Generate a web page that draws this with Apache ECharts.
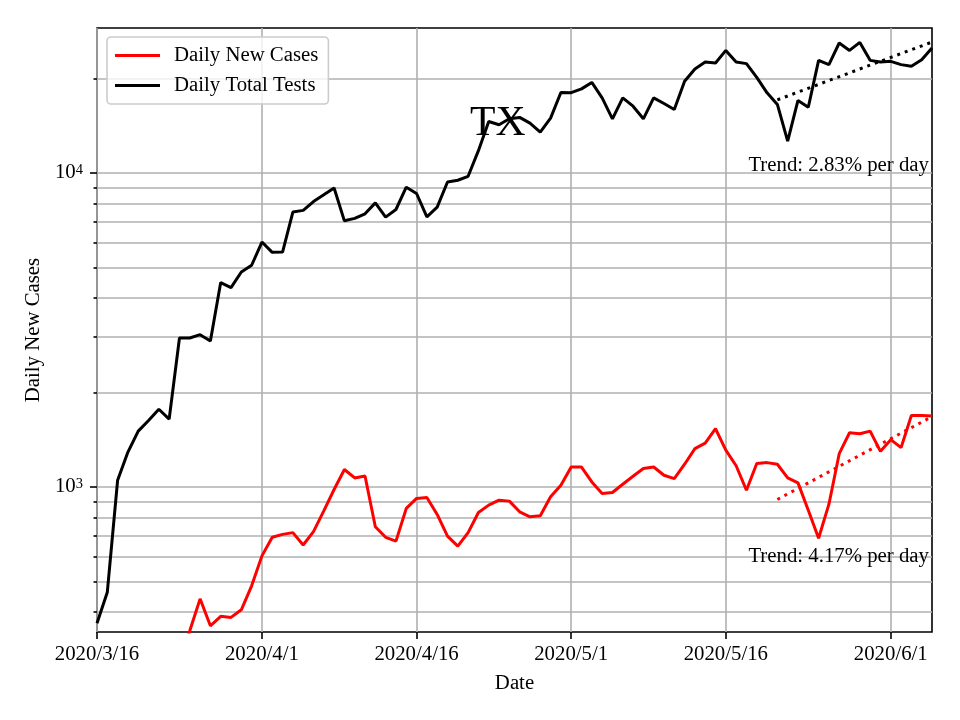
<!DOCTYPE html>
<html><head><meta charset="utf-8">
<script src="https://cdn.jsdelivr.net/npm/echarts@6/dist/echarts.min.js"></script>
<style>html,body{margin:0;padding:0;background:#fff}#c{width:960px;height:720px}</style>
</head><body><div id="c"></div>
<script>
// ---- data ----
const startYear = 2020, startMonth = 3, startDay = 16, dayCount = 82;
const xTickLabels = ['2020/3/16', '2020/4/1', '2020/4/16', '2020/5/1', '2020/5/16', '2020/6/1'];
const yTickValues = [1000, 10000];
const yTickExponents = ['3', '4'];
const dailyTotalTests = [368, 462, 1050, 1291, 1506, 1628, 1768, 1644, 2981, 2981,
  3054, 2916, 4476, 4314, 4838, 5082, 6026, 5588, 5600, 7510,
  7600, 8110, 8520, 8960, 7040, 7166, 7410, 8030, 7234, 7650,
  9010, 8603, 7250, 7783, 9363, 9480, 9760, 11780, 14590, 14240,
  14880, 15030, 14410, 13500, 14950, 18040, 18020, 18530, 19430, 17350,
  14880, 17350, 16320, 14880, 17350, 16650, 15930, 19600, 21450, 22580,
  22410, 24570, 22580, 22300, 20170, 18000, 16530, 12640, 17020, 16200,
  22840, 22140, 25940, 24570, 26060, 22840, 22580, 22680, 22140, 21870,
  22930, 25020];
const dailyNewCases = [null, null, null, null, null, null, null, null, 280, 348,
  440, 361, 387, 384, 406, 484, 603, 691, 706, 715,
  653, 720, 839, 981, 1136, 1068, 1083, 747, 691, 672,
  854, 919, 925, 817, 697, 648, 715, 829, 875, 907,
  901, 833, 803, 809, 930, 1013, 1157, 1157, 1037, 953,
  960, 1020, 1081, 1144, 1157, 1089, 1063, 1181, 1324, 1379,
  1532, 1310, 1168, 976, 1187, 1195, 1181, 1068, 1030, 843,
  686, 881, 1276, 1488, 1477, 1506, 1298, 1414, 1334, 1689,
  1689, 1681];
const trendDates = ['2020/5/21', '2020/6/5'];
const trendTests = [17100, 26130];
const trendCases = [912, 1675];
const trendTestsText = 'Trend: 2.83% per day';
const trendCasesText = 'Trend: 4.17% per day';
const stateName = 'TX';

// ---- build ----
const categories = [];
for (let i = 0; i < dayCount; i++) {
  const d = new Date(Date.UTC(startYear, startMonth - 1, startDay + i));
  categories.push(d.getUTCFullYear() + '/' + (d.getUTCMonth() + 1) + '/' + d.getUTCDate());
}
const isTick = (idx, val) => xTickLabels.indexOf(categories[idx]) >= 0;
const FONT = 'Liberation Serif';
const FS = 20.8;

const chart = echarts.init(document.getElementById('c'), null, {renderer: 'canvas'});
chart.setOption({
  animation: false,
  backgroundColor: '#fff',
  textStyle: {fontFamily: FONT},
  grid: {left: 97, right: 28, top: 28, bottom: 88, show: true, borderColor: '#000', borderWidth: 1.6, backgroundColor: 'transparent'},
  legend: {
    orient: 'vertical', left: 107, top: 37,
    data: ['Daily New Cases', 'Daily Total Tests'],
    icon: 'path://M0,0 L45,0 L45,3 L0,3 Z',
    itemWidth: 45, itemHeight: 3, itemGap: 9,
    padding: [8, 10, 8, 8],
    borderColor: '#cccccc', borderWidth: 1.6, borderRadius: 4,
    backgroundColor: 'rgba(255,255,255,0.8)',
    textStyle: {fontFamily: FONT, fontSize: FS, color: '#000', padding: [0, 0, 0, 9]}
  },
  xAxis: {
    type: 'category', data: categories, boundaryGap: false,
    name: 'Date', nameLocation: 'middle', nameGap: 41,
    nameTextStyle: {fontFamily: FONT, fontSize: FS, color: '#000'},
    axisLine: {show: false},
    axisTick: {show: true, interval: isTick, length: 7, lineStyle: {color: '#000', width: 1.6}},
    axisLabel: {interval: isTick, margin: 12, fontFamily: FONT, fontSize: FS, color: '#000'},
    splitLine: {show: true, interval: isTick, lineStyle: {color: '#b0b0b0', width: 1.6}}
  },
  yAxis: {
    type: 'log', logBase: 10, min: 345, max: 28960,
    name: 'Daily New Cases', nameLocation: 'middle', nameGap: 52,
    nameTextStyle: {fontFamily: FONT, fontSize: FS, color: '#000'},
    axisLine: {show: false},
    axisTick: {show: true, customValues: yTickValues, length: 7, lineStyle: {color: '#000', width: 1.6}},
    minorTick: {show: true, splitNumber: 9, length: 3.5, lineStyle: {color: '#000', width: 1.6}},
    splitLine: {show: true, lineStyle: {color: '#b0b0b0', width: 1.6}},
    minorSplitLine: {show: true, lineStyle: {color: '#b0b0b0', width: 1.6}},
    axisLabel: {
      customValues: yTickValues,
      margin: 14, color: '#000', fontFamily: FONT,
      formatter: function (v) {
        for (let i = 0; i < yTickValues.length; i++) {
          if (Math.abs(v - yTickValues[i]) < 1e-6 * yTickValues[i]) return '{b|10}{s|' + yTickExponents[i] + '}';
        }
        return '';
      },
      rich: {
        b: {fontFamily: FONT, fontSize: FS, color: '#000'},
        s: {fontFamily: FONT, fontSize: 14.5, color: '#000', verticalAlign: 'top'}
      }
    }
  },
  graphic: [
    {type: 'text', left: 470, top: 103, style: {text: stateName, fontFamily: FONT, fontSize: 41.7, fill: '#000'}, z: 100},
    {type: 'text', right: 31, top: 155, style: {text: trendTestsText, fontFamily: FONT, fontSize: FS, fill: '#000'}, z: 100},
    {type: 'text', right: 31, top: 546, style: {text: trendCasesText, fontFamily: FONT, fontSize: FS, fill: '#000'}, z: 100}
  ],
  series: [
    {name: 'Daily New Cases', type: 'line', data: dailyNewCases, symbol: 'none', showSymbol: false,
      lineStyle: {color: '#ff0000', width: 3}, itemStyle: {color: '#ff0000'}, connectNulls: false},
    {name: 'Daily Total Tests', type: 'line', data: dailyTotalTests, symbol: 'none', showSymbol: false,
      lineStyle: {color: '#000000', width: 3}, itemStyle: {color: '#000000'}},
    {name: 'Trend Tests', type: 'line', data: trendDates.map((d, i) => [d, trendTests[i]]), symbol: 'none',
      lineStyle: {color: '#000000', width: 3, type: [3, 5]}, itemStyle: {color: '#000'}},
    {name: 'Trend Cases', type: 'line', data: trendDates.map((d, i) => [d, trendCases[i]]), symbol: 'none',
      lineStyle: {color: '#ff0000', width: 3, type: [3, 5]}, itemStyle: {color: '#ff0000'}}
  ]
});
</script></body></html>
